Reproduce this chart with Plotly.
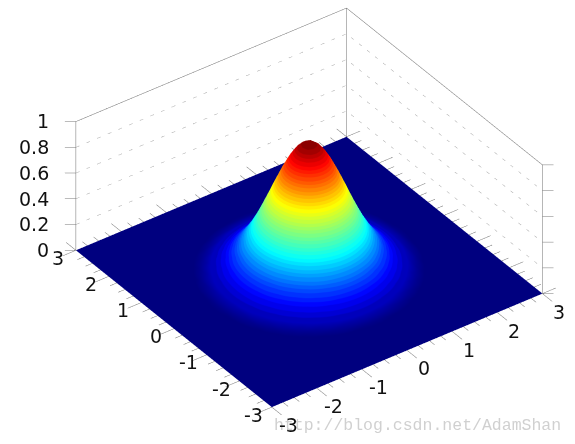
import numpy as np
import plotly.graph_objects as go
import plotly.express as px

# z values, one quadrant, rows and columns follow positive_grid
positive_grid = [0, 0.1, 0.2, 0.3, 0.4, 0.5, 0.6, 0.7, 0.8, 0.9, 1.0, 1.2, 1.4, 1.6, 1.8, 2.0, 2.2, 2.4, 2.6, 3.0]
quadrant_z = [
    [1.000, .990, .961, .914, .852, .779, .698, .613, .527, .445, .368, .237, .141, .077, .039, .018, .008, .003, .001, 0],
    [.990, .980, .951, .905, .844, .771, .691, .607, .522, .441, .364, .235, .140, .076, .039, .018, .008, .003, .001, 0],
    [.961, .951, .923, .878, .819, .749, .670, .589, .506, .428, .353, .228, .135, .074, .037, .017, .008, .003, .001, 0],
    [.914, .905, .878, .835, .779, .712, .638, .560, .482, .407, .336, .217, .129, .070, .036, .016, .007, .003, .001, 0],
    [.852, .844, .819, .779, .726, .664, .595, .522, .449, .379, .313, .202, .120, .066, .033, .015, .007, .003, .001, 0],
    [.779, .771, .749, .712, .664, .607, .544, .478, .411, .347, .287, .185, .110, .060, .030, .014, .006, .002, .001, 0],
    [.698, .691, .670, .638, .595, .544, .487, .428, .368, .311, .257, .165, .098, .054, .027, .013, .006, .002, .001, 0],
    [.613, .607, .589, .560, .522, .478, .428, .376, .323, .273, .226, .145, .086, .047, .024, .011, .005, .002, .001, 0],
    [.527, .522, .506, .482, .449, .411, .368, .323, .278, .235, .194, .125, .074, .041, .021, .009, .004, .002, .001, 0],
    [.445, .441, .428, .407, .379, .347, .311, .273, .235, .198, .164, .105, .063, .034, .017, .008, .004, .001, 0, 0],
    [.368, .364, .353, .336, .313, .287, .257, .226, .194, .164, .135, .087, .052, .028, .014, .007, .003, .001, 0, 0],
    [.237, .235, .228, .217, .202, .185, .165, .145, .125, .105, .087, .056, .033, .018, .009, .004, .002, .001, 0, 0],
    [.141, .140, .135, .129, .120, .110, .098, .086, .074, .063, .052, .033, .020, .011, .005, .003, .001, 0, 0, 0],
    [.077, .076, .074, .070, .066, .060, .054, .047, .041, .034, .028, .018, .011, .006, .003, .001, .001, 0, 0, 0],
    [.039, .039, .037, .036, .033, .030, .027, .024, .021, .017, .014, .009, .005, .003, .002, .001, 0, 0, 0, 0],
    [.018, .018, .017, .016, .015, .014, .013, .011, .009, .008, .007, .004, .003, .001, .001, 0, 0, 0, 0, 0],
    [.008, .008, .008, .007, .007, .006, .006, .005, .004, .004, .003, .002, .001, .001, 0, 0, 0, 0, 0, 0],
    [.003, .003, .003, .003, .003, .002, .002, .002, .002, .001, .001, .001, 0, 0, 0, 0, 0, 0, 0, 0],
    [.001, .001, .001, .001, .001, .001, .001, .001, .001, 0, 0, 0, 0, 0, 0, 0, 0, 0, 0, 0],
    [0, 0, 0, 0, 0, 0, 0, 0, 0, 0, 0, 0, 0, 0, 0, 0, 0, 0, 0, 0],
]
major_ticks = [-3, -2, -1, 0, 1, 2, 3]
minor_ticks = [-2.75, -2.5, -2.25, -1.75, -1.5, -1.25, -0.75, -0.5, -0.25,
               0.25, 0.5, 0.75, 1.25, 1.5, 1.75, 2.25, 2.5, 2.75]
z_ticks = [0, 0.2, 0.4, 0.6, 0.8, 1]
z_labels = ["0", "0.2", "0.4", "0.6", "0.8", "1"]
jet = [[0, "#00007f"], [0.11, "#0000ff"], [0.35, "#00ffff"], [0.64, "#ffff00"], [0.89, "#ff0000"], [1, "#7f0000"]]

# mirror the quadrant to the full square
q = np.array(quadrant_z) * 1.01  # the top of the bump sits a little above the z=1 tick
half = np.hstack([q[:, :0:-1], q])
z = np.vstack([half[:0:-1], half])
grid = [-g for g in positive_grid[:0:-1]] + positive_grid

# stepped colours give the banding of the original, flat navy then smooth at the very bottom
bands = 48
colors = px.colors.sample_colorscale(jet, [(i + 0.5) / bands for i in range(bands)])
stepped = [[0, "#00007f"], [0.012, "#00007f"], [2 / bands, colors[2]]]
for i in range(2, bands):
    stepped += [[i / bands, colors[i]], [(i + 1) / bands, colors[i]]]

fig = go.Figure()
fig.add_trace(go.Surface(x=grid, y=grid, z=z, colorscale=stepped, cmin=0, cmax=1.01, showscale=False,
                         hoverinfo="skip",
                         lighting=dict(ambient=1, diffuse=0, specular=0, fresnel=0, roughness=1)))


def segs(points):
    xs, ys, zs = [], [], []
    for a, b in points:
        xs += [a[0], b[0], None]
        ys += [a[1], b[1], None]
        zs += [a[2], b[2], None]
    return xs, ys, zs


def add_lines(points, color, width=1, dash="solid"):
    xs, ys, zs = segs(points)
    fig.add_trace(go.Scatter3d(x=xs, y=ys, z=zs, mode="lines", hoverinfo="skip",
                               line=dict(color=color, width=width, dash=dash)))


# frame of the back walls
frame = [((-3, 3, 0), (-3, 3, 1)), ((3, 3, 0), (3, 3, 1)), ((3, -3, 0), (3, -3, 1)),
         ((-3, 3, 1), (3, 3, 1)), ((3, 3, 1), (3, -3, 1))]
add_lines(frame, "#6e6e6e", 1)

# dotted grid on the walls
walls = []
for t in z_ticks[1:-1]:
    walls.append(((-3, 3, t), (3, 3, t)))
    walls.append(((3, 3, t), (3, -3, t)))
add_lines(walls, "#a8a8a8", 1, "dot")

# floor ticks, on all four edges
ticks = []
for ts, ln in ((major_ticks, 0.3), (minor_ticks, 0.15)):
    for t in ts:
        ticks.append(((t, 3, 0), (t, 3 + ln, 0)))
        ticks.append(((3, t, 0), (3 + ln, t, 0)))
        ticks.append(((t, -3, 0), (t, -3 - ln, 0)))
        ticks.append(((-3, t, 0), (-3 - ln, t, 0)))
# z ticks run flat across the screen
for t in z_ticks:
    ticks.append(((-3, 3, t), (-3.16, 3.117, t)))
    ticks.append(((3, -3, t), (3.16, -3.117, t)))
add_lines(ticks, "#777777", 1)

font = dict(family="DejaVu Sans", size=19, color="#111111")
notes = []
for t in major_ticks:
    notes.append(dict(x=t - 0.087, y=-3.63, z=0, text=str(t), showarrow=False, font=font))
    notes.append(dict(x=-3.4, y=t, z=0, text=str(t), showarrow=False, font=font))
for t, s in zip(z_ticks, z_labels):
    notes.append(dict(x=-3.36, y=3.264, z=t, text=s, showarrow=False, xanchor="right", font=font))

hidden = dict(visible=False, autorange=False, range=[-3.7, 3.7])
fig.update_layout(
    width=575, height=444, showlegend=False,
    margin=dict(l=0, r=0, t=0, b=0),
    paper_bgcolor="white",
    scene=dict(
        xaxis=hidden, yaxis=hidden,
        # range starts a bit below 0, a floor exactly on the clip plane breaks up
        zaxis=dict(visible=False, autorange=False, range=[-0.02, 1.05]),
        aspectmode="manual", aspectratio=dict(x=1.856, y=1.856, z=0.7612),
        camera=dict(projection=dict(type="orthographic"), up=dict(x=0, y=0, z=1),
                    center=dict(x=-0.1041, y=0.0227, z=-0.0600),
                    eye=dict(x=-1.0546, y=-1.2903, z=1.0926)),
        annotations=notes,
    ),
    annotations=[dict(text="http://blog.csdn.net/AdamShan", x=563 / 575, y=19 / 444,
                      xref="paper", yref="paper", xanchor="right", yanchor="middle",
                      showarrow=False,
                      font=dict(family="Liberation Mono", size=16.5, color="rgba(150,150,150,0.45)"))],
)
fig.write_html("out.html", config=dict(displayModeBar=False),
               post_script="document.body.style.margin='0';")
